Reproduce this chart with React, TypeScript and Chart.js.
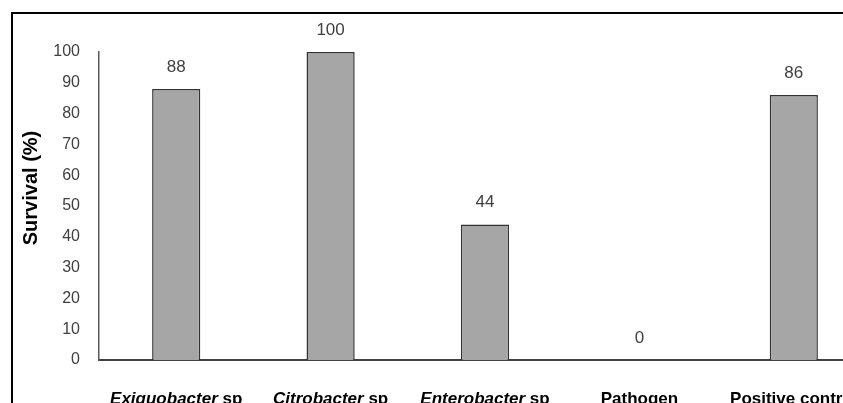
import React, { useEffect, useRef } from "react";
import { Chart, registerables } from "chart.js";

Chart.register(...registerables);

const genus: string[] = ["Exiguobacter", "Citrobacter", "Enterobacter", "", ""];
const suffix: string[] = [" sp", " sp", " sp", "Pathogen", "Positive control"];
const categories: string[] = ["Exiguobacter sp", "Citrobacter sp", "Enterobacter sp", "Pathogen", "Positive control"];
const survival: number[] = [88, 100, 44, 0, 86];
const yTitle = "Survival (%)";

const FONT = "'Liberation Sans', Arial, sans-serif";

const labelsPlugin = {
  id: "customLabels",
  afterDatasetsDraw(chart: any) {
    const ctx = chart.ctx;
    const meta = chart.getDatasetMeta(0);
    ctx.save();
    // value labels
    ctx.font = `17px ${FONT}`;
    ctx.fillStyle = "#404040";
    ctx.textAlign = "center";
    ctx.textBaseline = "middle";
    meta.data.forEach((bar: any, i: number) => {
      ctx.fillText(String(survival[i]), bar.x, bar.y - 22);
    });
    // category labels with italic genus
    const xScale = chart.scales.x;
    ctx.textBaseline = "alphabetic";
    ctx.textAlign = "left";
    ctx.fillStyle = "#000";
    categories.forEach((_c, i) => {
      const cx = xScale.getPixelForTick(i);
      const itFont = `italic bold 17px ${FONT}`;
      const nFont = `bold 17px ${FONT}`;
      ctx.font = itFont;
      const w1 = genus[i] ? ctx.measureText(genus[i]).width : 0;
      ctx.font = nFont;
      const w2 = ctx.measureText(suffix[i]).width;
      let x = cx - (w1 + w2) / 2;
      const y = 404;
      if (genus[i]) {
        ctx.font = itFont;
        ctx.fillText(genus[i], x, y);
        x += w1;
      }
      ctx.font = nFont;
      ctx.fillText(suffix[i], x, y);
    });
    // y title
    ctx.font = `bold 20px ${FONT}`;
    ctx.fillStyle = "#000";
    ctx.textAlign = "center";
    ctx.textBaseline = "middle";
    ctx.translate(31, 188);
    ctx.rotate(-Math.PI / 2);
    ctx.fillText(yTitle, 0, 0);
    ctx.restore();
  },
};

export default function App() {
  const ref = useRef<HTMLCanvasElement | null>(null);
  useEffect(() => {
    if (!ref.current) return;
    const chart = new Chart(ref.current, {
      type: "bar",
      data: {
        labels: categories,
        datasets: [
          {
            data: survival,
            backgroundColor: "#a6a6a6",
            borderColor: "#333333",
            borderWidth: 1.5,
            barPercentage: 0.312,
            categoryPercentage: 1,
          },
        ],
      },
      options: {
        animation: false,
        responsive: false,
        devicePixelRatio: 1,
        layout: { padding: { top: 52, bottom: 60, left: 0, right: 0 } },
        plugins: { legend: { display: false }, tooltip: { enabled: false } },
        scales: {
          x: {
            grid: { display: false, drawTicks: false },
            border: { display: true, color: "#404040", width: 2 },
            ticks: { display: false },
            afterFit: (s: any) => {
              s.height = 0;
            },
          },
          y: {
            min: 0,
            max: 100,
            grid: { display: false, drawTicks: false },
            border: { display: true, color: "#595959", width: 1.5 },
            ticks: {
              stepSize: 10,
              padding: 19,
              color: "#404040",
              font: { family: FONT, size: 16 },
            },
            afterFit: (s: any) => {
              s.width = 99;
            },
          },
        },
      },
      plugins: [labelsPlugin],
    });
    return () => chart.destroy();
  }, []);

  return (
    <div
      style={{
        position: "absolute",
        left: 0,
        top: 0,
        width: 843,
        height: 403,
        overflow: "hidden",
        background: "#fff",
      }}
    >
      <canvas
        ref={ref}
        width={871}
        height={420}
        style={{ position: "absolute", left: 0, top: 0, width: 871, height: 420 }}
      />
      <div
        style={{
          position: "absolute",
          left: 11,
          top: 12,
          width: 1000,
          height: 1000,
          borderTop: "2px solid #000",
          borderLeft: "2px solid #000",
          pointerEvents: "none",
        }}
      />
    </div>
  );
}
